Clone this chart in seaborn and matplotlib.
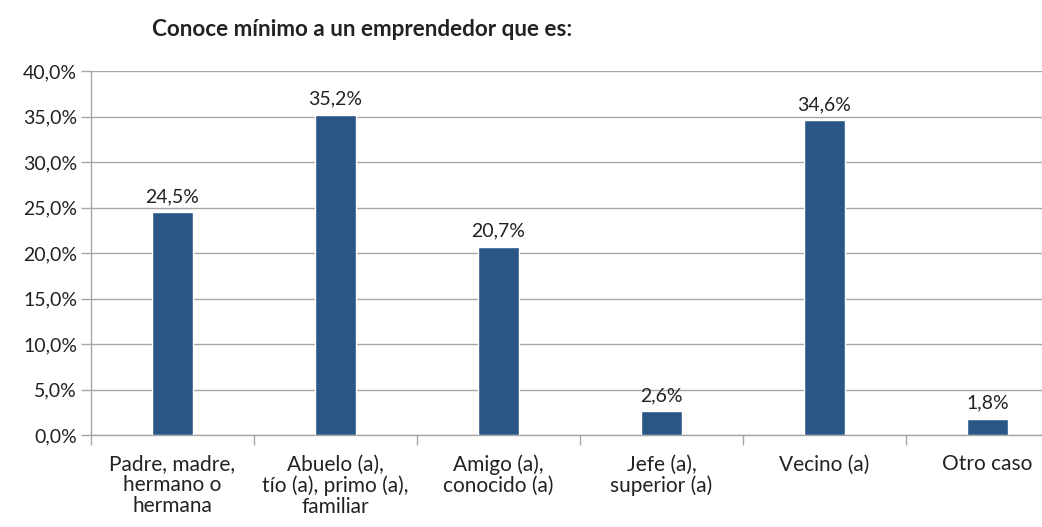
import matplotlib
matplotlib.use("Agg")
import matplotlib.pyplot as plt
import seaborn as sns
import pandas as pd
from matplotlib.ticker import FixedLocator, FuncFormatter

categories = ["Padre, madre,\nhermano o\nhermana", "Abuelo (a),\ntío (a), primo (a),\nfamiliar",
              "Amigo (a),\nconocido (a)", "Jefe (a),\nsuperior (a)", "Vecino (a)", "Otro caso"]
values = [24.5, 35.2, 20.7, 2.6, 34.6, 1.8]
value_labels = ["24,5%", "35,2%", "20,7%", "2,6%", "34,6%", "1,8%"]
yticks = [0, 5, 10, 15, 20, 25, 30, 35, 40]

sns.set_theme(style="white")
plt.rcParams['font.family'] = ['Lato', 'DejaVu Sans']

df = pd.DataFrame({"cat": categories, "val": values})

fig = plt.figure(figsize=(10.42, 5.27), dpi=100)
ax = fig.add_axes([91/1042, 1 - 435/527, (1069 - 91)/1042, (435 - 71)/527])

sns.barplot(data=df, x="cat", y="val", color="#2A5686", width=0.25, saturation=1, ax=ax, zorder=3)

ax.set_ylim(0, 40)
ax.set_xlim(-0.5, len(categories) - 0.5)
ax.set_yticks(yticks)
ax.yaxis.set_major_formatter(FuncFormatter(lambda v, p: f"{v:.1f}".replace(".", ",") + "%"))
ax.grid(axis="y", color="#A6A6A6", linewidth=1, zorder=0)
ax.grid(axis="x", visible=False)

# category boundary ticks, labels at centers
ax.xaxis.set_major_locator(FixedLocator([i - 0.5 for i in range(len(categories) + 1)]))
ax.xaxis.set_major_formatter(FuncFormatter(lambda v, p: ""))
ax.xaxis.set_minor_locator(FixedLocator(list(range(len(categories)))))
ax.set_xticklabels(categories, minor=True)
ax.tick_params(axis="x", which="major", length=7, width=1, color="#A6A6A6", direction="out", bottom=True)
ax.tick_params(axis="x", which="minor", length=0, pad=14, labelsize=15, labelcolor="#222222")
ax.tick_params(axis="y", length=7, width=1, color="#A6A6A6", direction="out", left=True,
               labelsize=14, labelcolor="#222222", pad=3)
for t in ax.get_xticklabels(minor=True):
    t.set_linespacing(1.05)
    t.set_va("top")

ax.set_xlabel("")
ax.set_ylabel("")
for s in ["top", "right"]:
    ax.spines[s].set_visible(False)
ax.spines["left"].set_color("#A6A6A6")
ax.spines["bottom"].set_color("#A6A6A6")
ax.spines["left"].set_linewidth(1)
ax.spines["bottom"].set_linewidth(1)

for i, (v, lab) in enumerate(zip(values, value_labels)):
    ax.annotate(lab, (i, v), xytext=(0, 5), textcoords="offset points", ha="center", va="bottom",
                fontsize=14, color="#222222")

fig.text(362/1042, 1 - 29/527, "Conoce mínimo a un emprendedor que es:", ha="center", va="center",
         fontsize=16.2, fontweight="bold", color="#222222")

fig.savefig("out.png", dpi=100)
